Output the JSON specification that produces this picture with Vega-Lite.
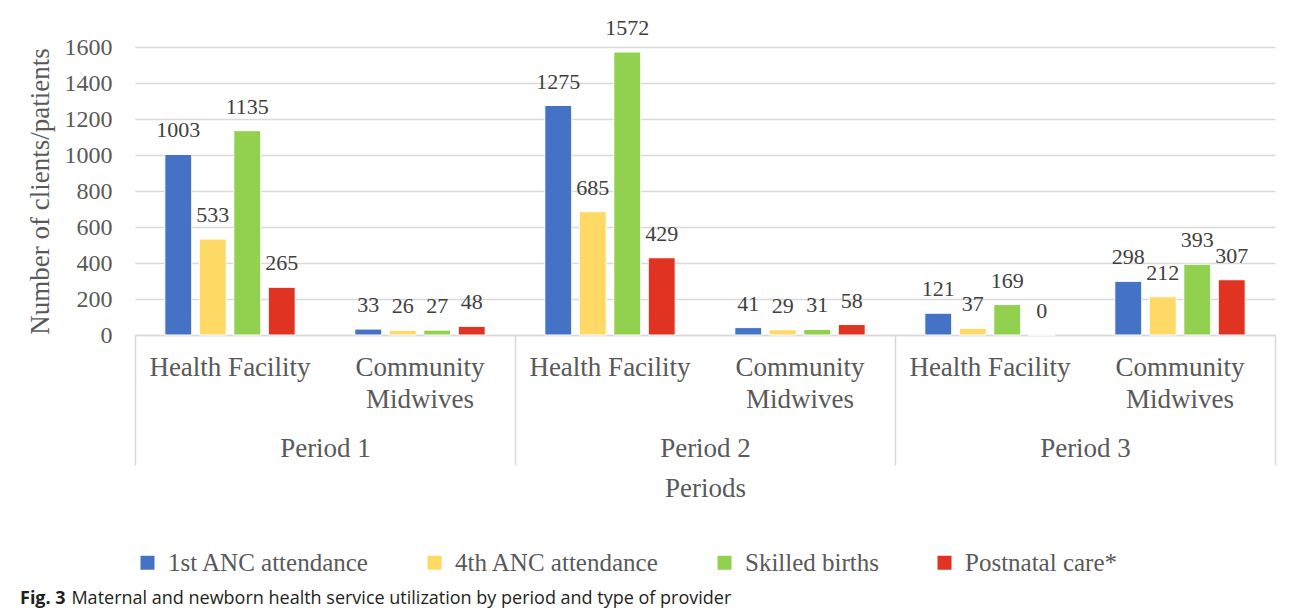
{
  "$schema": "https://vega.github.io/schema/vega-lite/v6.json",
  "width": 1140,
  "height": 288,
  "autosize": {"type": "none"},
  "padding": {"left": 135, "top": 47, "right": 17, "bottom": 278},
  "background": "white",
  "config": {
    "view": {"stroke": null},
    "axis": {"labelFont": "Liberation Serif", "titleFont": "Liberation Serif", "labelColor": "#595959", "titleColor": "#595959", "titleFontWeight": "normal"},
    "legend": {"labelFont": "Liberation Serif"},
    "text": {"font": "Liberation Serif"}
  },
  "title": {
    "text": "\u200b\u00a0\u00a0\u00a0\u00a0\u00a0\u00a0\u00a0\u00a0\u00a0\u00a0\u00a0Maternal and newborn health service utilization by period and type of provider",
    "subtitle": "Fig. 3",
    "orient": "bottom",
    "anchor": "start",
    "frame": "bounds",
    "dx": -6,
    "offset": 14,
    "font": "Open Sans",
    "fontSize": 18,
    "fontWeight": "normal",
    "color": "#231f20",
    "subtitleFont": "Open Sans",
    "subtitleFontSize": 18,
    "subtitleFontWeight": "bold",
    "subtitleColor": "#231f20",
    "subtitlePadding": -18
  },
  "data": {
    "values": [
      {"period": "Period 1", "cat": "Period 1|Health Facility", "series": "1st ANC attendance", "value": 1003},
      {"period": "Period 1", "cat": "Period 1|Health Facility", "series": "4th ANC attendance", "value": 533},
      {"period": "Period 1", "cat": "Period 1|Health Facility", "series": "Skilled births", "value": 1135},
      {"period": "Period 1", "cat": "Period 1|Health Facility", "series": "Postnatal care*", "value": 265},
      {"period": "Period 1", "cat": "Period 1|Community Midwives", "series": "1st ANC attendance", "value": 33},
      {"period": "Period 1", "cat": "Period 1|Community Midwives", "series": "4th ANC attendance", "value": 26},
      {"period": "Period 1", "cat": "Period 1|Community Midwives", "series": "Skilled births", "value": 27},
      {"period": "Period 1", "cat": "Period 1|Community Midwives", "series": "Postnatal care*", "value": 48},
      {"period": "Period 2", "cat": "Period 2|Health Facility", "series": "1st ANC attendance", "value": 1275},
      {"period": "Period 2", "cat": "Period 2|Health Facility", "series": "4th ANC attendance", "value": 685},
      {"period": "Period 2", "cat": "Period 2|Health Facility", "series": "Skilled births", "value": 1572},
      {"period": "Period 2", "cat": "Period 2|Health Facility", "series": "Postnatal care*", "value": 429},
      {"period": "Period 2", "cat": "Period 2|Community Midwives", "series": "1st ANC attendance", "value": 41},
      {"period": "Period 2", "cat": "Period 2|Community Midwives", "series": "4th ANC attendance", "value": 29},
      {"period": "Period 2", "cat": "Period 2|Community Midwives", "series": "Skilled births", "value": 31},
      {"period": "Period 2", "cat": "Period 2|Community Midwives", "series": "Postnatal care*", "value": 58},
      {"period": "Period 3", "cat": "Period 3|Health Facility", "series": "1st ANC attendance", "value": 121},
      {"period": "Period 3", "cat": "Period 3|Health Facility", "series": "4th ANC attendance", "value": 37},
      {"period": "Period 3", "cat": "Period 3|Health Facility", "series": "Skilled births", "value": 169},
      {"period": "Period 3", "cat": "Period 3|Health Facility", "series": "Postnatal care*", "value": 0},
      {"period": "Period 3", "cat": "Period 3|Community Midwives", "series": "1st ANC attendance", "value": 298},
      {"period": "Period 3", "cat": "Period 3|Community Midwives", "series": "4th ANC attendance", "value": 212},
      {"period": "Period 3", "cat": "Period 3|Community Midwives", "series": "Skilled births", "value": 393},
      {"period": "Period 3", "cat": "Period 3|Community Midwives", "series": "Postnatal care*", "value": 307}
    ]
  },
  "layer": [
    {
      "encoding": {
        "x": {
          "field": "cat",
          "type": "nominal",
          "sort": null,
          "scale": {"paddingInner": 0.274, "paddingOuter": 0.137},
          "axis": {
            "orient": "bottom",
            "title": null,
            "labelAngle": 0,
            "ticks": false,
            "grid": false,
            "domainColor": "#d9d9d9",
            "domainWidth": 1.5,
            "labelFont": "Liberation Serif",
            "labelFontSize": 27,
            "labelColor": "#595959",
            "labelPadding": 19,
            "labelLineHeight": 32,
            "labelExpr": "indexof(datum.label, 'Community') >= 0 ? ['Community', 'Midwives'] : 'Health Facility'"
          }
        },
        "xOffset": {
          "field": "series",
          "type": "nominal",
          "sort": ["1st ANC attendance", "4th ANC attendance", "Skilled births", "Postnatal care*"],
          "scale": {"paddingInner": 0.22, "paddingOuter": 0.11}
        },
        "y": {
          "field": "value",
          "type": "quantitative",
          "scale": {"domain": [0, 1600]},
          "axis": {
            "title": "Number of clients/patients",
            "values": [0, 200, 400, 600, 800, 1000, 1200, 1400, 1600],
            "format": "d",
            "domain": false,
            "ticks": false,
            "gridColor": "#d9d9d9",
            "gridWidth": 1.5,
            "labelFont": "Liberation Serif",
            "labelFontSize": 24,
            "labelColor": "#595959",
            "labelPadding": 23,
            "titleFont": "Liberation Serif",
            "titleFontSize": 27,
            "titleFontWeight": "normal",
            "titleColor": "#595959",
            "titlePadding": 10
          }
        }
      },
      "layer": [
        {
          "mark": {"type": "bar", "stroke": "white", "strokeWidth": 1},
          "encoding": {
            "color": {
              "field": "series",
              "type": "nominal",
              "scale": {
                "domain": ["1st ANC attendance", "4th ANC attendance", "Skilled births", "Postnatal care*"],
                "range": ["#4472C4", "#FFD966", "#92D050", "#E03322"]
              },
              "legend": {
                "orient": "bottom",
                "direction": "horizontal",
                "title": null,
                "symbolType": "square",
                "symbolSize": 196,
                "symbolStrokeWidth": 0,
                "labelFont": "Liberation Serif",
                "labelFontSize": 25,
                "labelColor": "#595959",
                "labelLimit": 400,
                "columnPadding": 52,
                "labelOffset": 8,
                "offset": 48
              }
            }
          }
        },
        {
          "mark": {"type": "text", "baseline": "middle", "dy": -24, "font": "Liberation Serif", "fontSize": 22, "color": "#404040"},
          "encoding": {"text": {"field": "value", "type": "quantitative"}}
        }
      ]
    },
    {
      "mark": {"type": "rule", "opacity": 0},
      "encoding": {
        "x": {
          "field": "period",
          "type": "nominal",
          "scale": {"paddingInner": 0, "paddingOuter": 0},
          "axis": {
            "orient": "bottom",
            "title": "Periods",
            "tickBand": "extent",
            "tickSize": 130,
            "tickColor": "#d9d9d9",
            "tickWidth": 1.5,
            "domain": false,
            "grid": false,
            "labelAngle": 0,
            "labelPadding": -30,
            "labelFont": "Liberation Serif",
            "labelFontSize": 27,
            "labelColor": "#595959",
            "titleFont": "Liberation Serif",
            "titleFontSize": 27,
            "titleFontWeight": "normal",
            "titleColor": "#595959",
            "titlePadding": 10
          }
        }
      }
    }
  ],
  "resolve": {"scale": {"x": "independent"}, "axis": {"x": "independent"}}
}
